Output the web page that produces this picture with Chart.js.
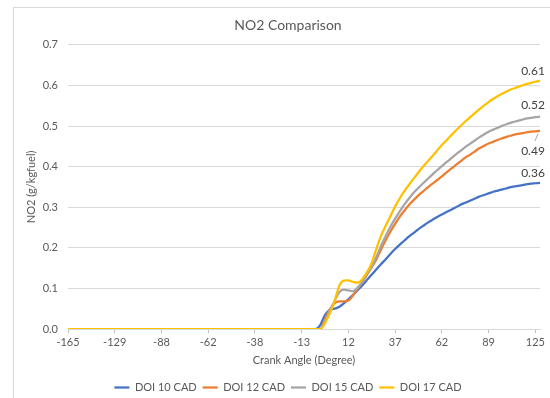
<!DOCTYPE html>
<html>
<head>
<meta charset="utf-8">
<title>NO2 Comparison</title>
<script src="https://cdn.jsdelivr.net/npm/chart.js@4.4.1/dist/chart.umd.min.js"></script>
<style>
  html, body { margin: 0; padding: 0; background: #ffffff; overflow: hidden; }
  #wrap { position: relative; width: 550px; height: 398px; overflow: hidden; }
  #frame { position: absolute; left: 13px; top: 7px; width: 551px; height: 420px;
           border: 1px solid #d9d9d9; box-sizing: border-box; }
  #c { position: absolute; left: 0; top: 0; }
</style>
</head>
<body>
<div id="wrap">
  <div id="frame"></div>
  <canvas id="c" width="563" height="403"></canvas>
</div>
<script>
// Crank angle (degrees) for each sample; the solver output step is not uniform.
const crankAngle = [
  -165, -161, -158, -154, -151, -147, -143, -140, -136, -133,
  -129, -125, -121, -117, -113, -108, -104, -100, -96, -92,
  -88, -85, -83, -80, -78, -75, -72, -70, -67, -65,
  -62, -60, -57, -55, -52, -50, -48, -45, -43, -40,
  -38, -35, -33, -30, -28, -25, -23, -20, -18, -15,
  -13, -10, -8, -5, -3, 0, 2, 5, 7, 10,
  12, 15, 17, 20, 22, 25, 27, 30, 32, 35,
  37, 40, 42, 45, 47, 50, 52, 55, 57, 60,
  62, 65, 67, 70, 73, 76, 78, 81, 84, 86,
  89, 93, 96, 100, 103, 107, 111, 114, 118, 121,
  125, 128
];

// Cumulative NO2 (g/kg fuel) per injection timing
const doi10 = [
  0, 0, 0, 0, 0, 0, 0, 0, 0, 0,
  0, 0, 0, 0, 0, 0, 0, 0, 0, 0,
  0, 0, 0, 0, 0, 0, 0, 0, 0, 0,
  0, 0, 0, 0, 0, 0, 0, 0, 0, 0,
  0, 0, 0, 0, 0, 0, 0, 0, 0, 0,
  0, 0, 0, 0, 0.010, 0.035, 0.047, 0.050, 0.054, 0.063,
  0.073, 0.084, 0.096, 0.108, 0.121, 0.134, 0.147, 0.160, 0.172, 0.185,
  0.197, 0.208, 0.218, 0.228, 0.237, 0.246, 0.254, 0.262, 0.269, 0.276,
  0.282, 0.288, 0.294, 0.300, 0.306, 0.311, 0.316, 0.321, 0.326, 0.330,
  0.334, 0.338, 0.341, 0.344, 0.347, 0.350, 0.352, 0.354, 0.356, 0.358,
  0.359, 0.360
];

const doi12 = [
  0, 0, 0, 0, 0, 0, 0, 0, 0, 0,
  0, 0, 0, 0, 0, 0, 0, 0, 0, 0,
  0, 0, 0, 0, 0, 0, 0, 0, 0, 0,
  0, 0, 0, 0, 0, 0, 0, 0, 0, 0,
  0, 0, 0, 0, 0, 0, 0, 0, 0, 0,
  0, 0, 0, 0, 0, 0.025, 0.048, 0.063, 0.068, 0.068,
  0.070, 0.083, 0.100, 0.116, 0.134, 0.152, 0.172, 0.196, 0.219, 0.240,
  0.259, 0.277, 0.292, 0.306, 0.318, 0.329, 0.339, 0.349, 0.358, 0.367,
  0.376, 0.386, 0.395, 0.404, 0.413, 0.422, 0.429, 0.437, 0.445, 0.451,
  0.457, 0.461, 0.466, 0.470, 0.474, 0.477, 0.480, 0.482, 0.484, 0.486,
  0.487, 0.488
];

const doi15 = [
  0, 0, 0, 0, 0, 0, 0, 0, 0, 0,
  0, 0, 0, 0, 0, 0, 0, 0, 0, 0,
  0, 0, 0, 0, 0, 0, 0, 0, 0, 0,
  0, 0, 0, 0, 0, 0, 0, 0, 0, 0,
  0, 0, 0, 0, 0, 0, 0, 0, 0, 0,
  0, 0, 0, 0, 0, 0.020, 0.045, 0.068, 0.090, 0.097,
  0.095, 0.093, 0.102, 0.116, 0.136, 0.154, 0.178, 0.205, 0.230, 0.252,
  0.272, 0.290, 0.307, 0.322, 0.336, 0.348, 0.359, 0.370, 0.381, 0.391,
  0.401, 0.411, 0.420, 0.430, 0.439, 0.448, 0.456, 0.464, 0.472, 0.479,
  0.486, 0.491, 0.496, 0.501, 0.505, 0.509, 0.512, 0.515, 0.518, 0.520,
  0.522, 0.523
];

const doi17 = [
  0, 0, 0, 0, 0, 0, 0, 0, 0, 0,
  0, 0, 0, 0, 0, 0, 0, 0, 0, 0,
  0, 0, 0, 0, 0, 0, 0, 0, 0, 0,
  0, 0, 0, 0, 0, 0, 0, 0, 0, 0,
  0, 0, 0, 0, 0, 0, 0, 0, 0, 0,
  0, 0, 0, 0, 0, 0.015, 0.038, 0.067, 0.105, 0.119,
  0.120, 0.116, 0.114, 0.123, 0.140, 0.163, 0.198, 0.230, 0.255, 0.278,
  0.302, 0.322, 0.340, 0.356, 0.371, 0.386, 0.400, 0.413, 0.426, 0.440,
  0.453, 0.465, 0.477, 0.489, 0.500, 0.511, 0.521, 0.531, 0.541, 0.550,
  0.559, 0.567, 0.574, 0.580, 0.586, 0.591, 0.595, 0.599, 0.603, 0.606,
  0.609, 0.611
];

const seriesNames = ['DOI 10 CAD', 'DOI 12 CAD', 'DOI 15 CAD', 'DOI 17 CAD'];
const seriesData = [doi10, doi12, doi15, doi17];
const seriesColors = ['#4472C4', '#ED7D31', '#A5A5A5', '#FFC000'];

const LABEL_EVERY = 10;          // one axis label per ten samples
const FONT = 'Lato, "Open Sans", sans-serif';
const TEXT = '#595959';
const GRID = '#d9d9d9';

// Offsets of the end-of-line value labels, in dataset order
const endLabelOffsets = [
  { dx: -7, dy: -10 },
  { dx: -7, dy: 20, leader: true },
  { dx: -7, dy: -12 },
  { dx: -7, dy: -10 }
];

const endLabels = {
  id: 'endLabels',
  afterDatasetsDraw(chart) {
    const ctx = chart.ctx;
    ctx.save();
    ctx.font = '12px ' + FONT;
    ctx.fillStyle = '#404040';
    ctx.textAlign = 'center';
    ctx.textBaseline = 'middle';
    chart.data.datasets.forEach((ds, i) => {
      const meta = chart.getDatasetMeta(i);
      const pt = meta.data[meta.data.length - 1];
      const off = endLabelOffsets[i];
      const value = ds.data[ds.data.length - 1];
      ctx.fillText(value.toFixed(2), pt.x + off.dx, pt.y + off.dy);
      if (off.leader) {
        ctx.strokeStyle = '#a6a6a6';
        ctx.lineWidth = 1;
        ctx.beginPath();
        ctx.moveTo(pt.x - 5, pt.y + 10);
        ctx.lineTo(pt.x - 2, pt.y + 3);
        ctx.stroke();
      }
    });
    ctx.restore();
  }
};

const datasets = seriesNames.map((name, i) => ({
  label: name,
  data: seriesData[i],
  borderColor: seriesColors[i],
  backgroundColor: seriesColors[i],
  borderWidth: 2.25,
  pointRadius: 0,
  pointHoverRadius: 0,
  cubicInterpolationMode: 'monotone',
  fill: false,
  order: seriesNames.length - i
}));

new Chart(document.getElementById('c'), {
  type: 'line',
  data: { labels: crankAngle.map(String), datasets },
  plugins: [endLabels],
  options: {
    responsive: false,
    animation: false,
    events: [],
    layout: { padding: { left: 13, right: 0, top: 7, bottom: 0 } },
    plugins: {
      title: {
        display: true,
        text: 'NO2 Comparison',
        color: TEXT,
        font: { family: FONT, size: 14, weight: 'normal' },
        padding: { top: 10, bottom: 11 }
      },
      legend: {
        position: 'bottom',
        labels: {
          usePointStyle: true,
          pointStyle: 'line',
          pointStyleWidth: 15,
          color: TEXT,
          font: { family: FONT, size: 11 },
          padding: 6,
          sort: (a, b) => a.datasetIndex - b.datasetIndex
        }
      },
      tooltip: { enabled: false }
    },
    scales: {
      x: {
        type: 'category',
        offset: false,
        afterFit: s => { s.height = 47; },
        grid: {
          drawOnChartArea: false,
          tickLength: 4,
          color: c => (c.index % LABEL_EVERY === 0 ? '#bfbfbf' : 'rgba(0,0,0,0)')
        },
        border: { color: GRID, width: 1 },
        ticks: {
          autoSkip: false,
          maxRotation: 0,
          minRotation: 0,
          padding: 3,
          color: TEXT,
          font: { family: FONT, size: 11 },
          callback: function (v, i) { return i % LABEL_EVERY === 0 ? this.getLabelForValue(v) : ''; }
        },
        title: {
          display: true,
          text: 'Crank Angle (Degree)',
          color: TEXT,
          font: { family: FONT, size: 11 },
          padding: { top: 0, bottom: 9 }
        }
      },
      y: {
        min: 0,
        max: 0.7,
        afterFit: s => { s.width = 55; },
        grid: { color: GRID, drawTicks: false },
        border: { display: false },
        ticks: {
          stepSize: 0.1,
          padding: 10,
          color: TEXT,
          font: { family: FONT, size: 11 },
          callback: v => v.toFixed(1)
        },
        title: {
          display: true,
          text: 'NO2 (g/kgfuel)',
          color: TEXT,
          font: { family: FONT, size: 11 },
          padding: { top: 12, bottom: 0 }
        }
      },
      spare: {
        position: 'right',
        display: true,
        afterFit: s => { s.width = 23; },
        grid: { display: false },
        border: { display: false },
        ticks: { display: false }
      }
    }
  }
});
</script>
</body>
</html>
